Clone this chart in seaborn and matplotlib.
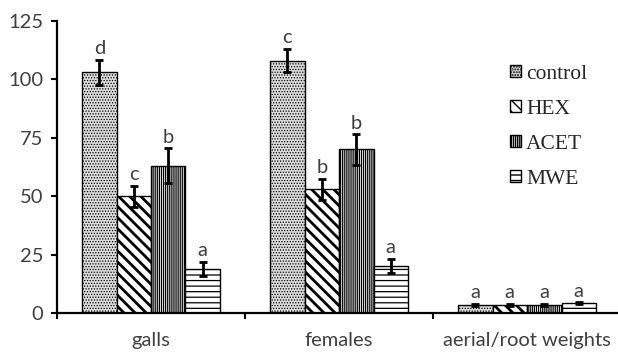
import numpy as np
import pandas as pd
import seaborn as sns
import matplotlib.pyplot as plt
from matplotlib.container import BarContainer

categories = ['galls', 'females', 'aerial/root weights']
treatments = ['control', 'HEX', 'ACET', 'MWE']
control = [103, 108, 3.6]
hexane = [50, 53, 3.6]
acet = [63, 70, 3.5]
mwe = [19, 20, 4.1]
err_control = [5.5, 5.0, 0.4]
err_hexane = [4.5, 4.5, 0.4]
err_acet = [7.5, 6.5, 0.3]
err_mwe = [3.0, 3.0, 0.4]
let_control = ['d', 'c', 'a']
let_hexane = ['c', 'b', 'a']
let_acet = ['b', 'b', 'a']
let_mwe = ['a', 'a', 'a']
yticks = [0, 25, 50, 75, 100, 125]

values = [control, hexane, acet, mwe]
errors = [err_control, err_hexane, err_acet, err_mwe]
letters = [let_control, let_hexane, let_acet, let_mwe]

df = pd.DataFrame({
    'category': np.repeat([categories], 4, axis=0).ravel(),
    'treatment': np.repeat(treatments, 3),
    'value': np.concatenate(values),
})

sns.set_style('white')
plt.rcParams['font.family'] = ['Lato', 'DejaVu Sans']
plt.rcParams['hatch.linewidth'] = 1.0

fig = plt.figure(figsize=(6.18, 3.52), dpi=100)
ax = fig.add_axes([57 / 618, 39 / 352, 561 / 618, 292 / 352])

faces = {'control': '#dcdcdc', 'HEX': 'white', 'ACET': 'white', 'MWE': 'white'}
hatches = ['......', '\\\\\\', '||||||||', '---']
hatch_lw = [0.6, 2.0, 0.9, 0.9]

sns.barplot(data=df, x='category', y='value', hue='treatment', order=categories,
            hue_order=treatments, palette=faces, width=0.734, errorbar=None,
            edgecolor='black', linewidth=1.0, ax=ax, legend=False, saturation=1)

bar_conts = [c for c in ax.containers if isinstance(c, BarContainer)]
handles = []
for i, cont in enumerate(bar_conts):
    for j, p in enumerate(cont.patches):
        p.set_hatch(hatches[i])
        p.set_edgecolor('black')
        if hasattr(p, 'set_hatch_linewidth'):
            p.set_hatch_linewidth(hatch_lw[i])
        x = p.get_x() + p.get_width() / 2
        y = p.get_height()
        ax.errorbar(x, y, yerr=errors[i][j], fmt='none', ecolor='black',
                    elinewidth=2, capsize=3, capthick=2, zorder=5)
        ax.annotate(letters[i][j], (x, y + errors[i][j]), xytext=(0, 2),
                    textcoords='offset points', ha='center', va='bottom',
                    fontsize=14.5, color='#404040')
    handles.append(cont.patches[0])

ax.set_xlim(-0.5, 2.484)
ax.set_ylim(0, 125)
ax.set_yticks(yticks)
ax.set_xticks([0, 1, 2])
ax.set_xticklabels(categories)
ax.set_xticks([-0.5, 0.5, 1.5], minor=True)
ax.set_xlabel('')
ax.set_ylabel('')
for s in ['top', 'right']:
    ax.spines[s].set_visible(False)
for s in ['left', 'bottom']:
    ax.spines[s].set_linewidth(1.6)
    ax.spines[s].set_color('black')
ax.tick_params(axis='y', direction='out', length=4, width=1.5, color='black',
               labelsize=14.5, labelcolor='#404040', pad=6, left=True)
ax.tick_params(axis='x', which='major', length=0, pad=14, labelsize=14.5,
               labelcolor='#404040', bottom=True)
ax.tick_params(axis='x', which='minor', direction='out', length=4, width=1.5,
               color='black', bottom=True)

leg = ax.legend(handles, treatments, loc='upper left',
                bbox_to_anchor=(510 / 618, 1 - 65 / 352), bbox_transform=fig.transFigure,
                frameon=False, prop={'family': 'Liberation Serif', 'size': 15.5},
                handlelength=0.5, handleheight=0.5, handletextpad=0.25,
                labelspacing=0.74, borderpad=0, borderaxespad=0)

fig.savefig('out.png', dpi=100)
